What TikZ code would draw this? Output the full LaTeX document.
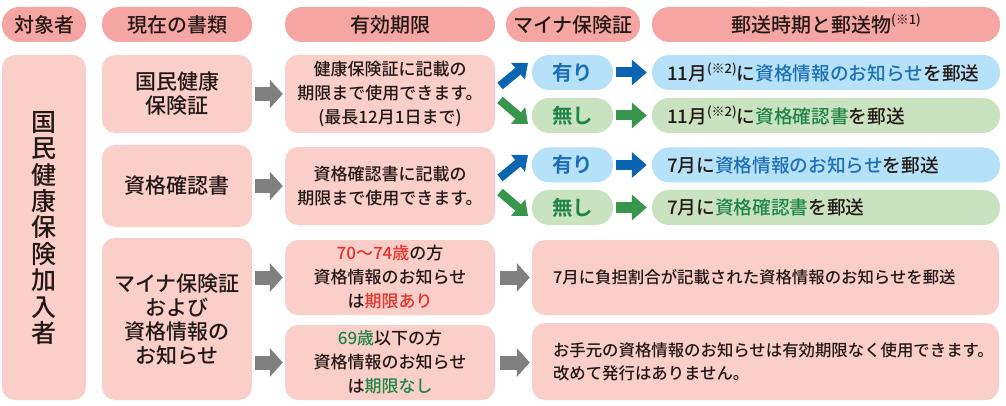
\documentclass[tikz,border=0pt]{standalone}
\usepackage{fontspec}
\setmainfont{Noto Sans CJK JP}[UprightFont=* Medium, BoldFont=* Bold]
\usetikzlibrary{arrows.meta}
\definecolor{hdr}{HTML}{F5A6A2}
\definecolor{pinkb}{HTML}{FBCFC9}
\definecolor{lblue}{HTML}{B6E2F9}
\definecolor{lgreen}{HTML}{C9E2BF}
\definecolor{ablue}{HTML}{0B64AF}
\definecolor{agreen}{HTML}{37964B}
\definecolor{tblue}{HTML}{1E6EB5}
\definecolor{tgreen}{HTML}{1F8447}
\definecolor{tred}{HTML}{E8312B}
\definecolor{ink}{HTML}{231815}
\definecolor{agray}{HTML}{808080}
\newcommand{\fsz}[2]{\fontsize{#1}{#2}\selectfont}
\newcommand{\supnote}[1]{\raisebox{0.40em}{\fsz{13}{13}#1}}
\begin{document}
\begin{tikzpicture}[x=1pt,y=-1pt]
\tikzset{
  every node/.style={text=ink, inner sep=0pt},
  hdrbox/.style={fill=hdr, rounded corners=17pt, minimum height=35pt, font=\fsz{20}{22}},
  pbox/.style={fill=pinkb, rounded corners=13pt, align=center},
  docbox/.style={pbox, minimum width=150pt, font=\fsz{21}{24}},
  valbox/.style={pbox, minimum width=210pt, font=\fsz{17}{24}},
  yesbox/.style={fill=lblue, rounded corners=17pt, minimum width=81pt, minimum height=35pt, font=\bfseries\fsz{20.5}{22}, text=tblue},
  nobox/.style={fill=lgreen, rounded corners=17pt, minimum width=81pt, minimum height=35pt, font=\bfseries\fsz{20.5}{22}, text=tgreen},
  bmail/.style={fill=lblue, rounded corners=17pt, minimum width=348pt, minimum height=35pt},
  gmail/.style={fill=lgreen, rounded corners=17pt, minimum width=348pt, minimum height=35pt},
  mailtext/.style={anchor=west, font=\fsz{18.7}{22}, align=left},
  grayarr/.style={draw=agray, line width=14pt, -{Triangle[length=13pt,width=28pt]}},
  bluearr/.style={draw=ablue, line width=10pt, -{Triangle[length=15pt,width=25pt]}},
  greenarr/.style={draw=agreen, line width=10pt, -{Triangle[length=15pt,width=25pt]}},
  bluediag/.style={draw=ablue, line width=8.5pt, -{Triangle[length=13pt,width=21pt]}},
  greendiag/.style={draw=agreen, line width=8.5pt, -{Triangle[length=13pt,width=21pt]}}
}
\useasboundingbox (0,0) rectangle (1006,406);

% headers
\node[hdrbox, minimum width=84pt] (h1) at (44,24.5) {対象者};
\node[hdrbox, minimum width=150pt] (h2) at (177,24.5) {現在の書類};
\node[hdrbox, minimum width=210pt] (h3) at (390,24.5) {有効期限};
\node[hdrbox, minimum width=134pt] (h4) at (573,24.5) {マイナ保険証};
\node[hdrbox, minimum width=348pt] (h5) at (826,24.5) {郵送時期と郵送物\supnote{(※1)}};

% target
\node[pbox, minimum width=84pt, minimum height=345pt] (tg) at (44,227.5) {};
\node[font=\fsz{25}{26.4}, align=center] (tgt) at (44,228) {国\\民\\健\\康\\保\\険\\加\\入\\者};

% current documents
\node[docbox, minimum height=78pt] (c1) at (177,94) {国民健康\\保険証};
\node[docbox, minimum height=82pt] (c2) at (177,186) {資格確認書};
\node[docbox, minimum height=162pt] (c3) at (177,319) {マイナ保険証\\および\\資格情報の\\お知らせ};

% validity
\node[valbox, minimum height=78pt] (v1) at (390,94) {健康保険証に記載の\\期限まで使用できます。\\(最長12月1日まで)};
\node[valbox, minimum height=78pt] (v2) at (390,186) {資格確認書に記載の\\期限まで使用できます。};
\node[valbox, minimum height=75pt] (v3) at (390,277.5) {{\color{tred}70～74歳}の方\\資格情報のお知らせ\\は{\color{tred}期限あり}};
\node[valbox, minimum height=75pt] (v4) at (390,362.5) {{\color{tgreen}69歳}以下の方\\資格情報のお知らせ\\は{\color{tgreen}期限なし}};

% my number card
\node[yesbox] (m1) at (572.5,72.5) {有り};
\node[nobox] (m2) at (572.5,115.5) {無し};
\node[yesbox] (m3) at (572.5,165) {有り};
\node[nobox] (m4) at (572.5,207.5) {無し};

% mail
\node[bmail] (r1) at (826,72.5) {};
\node[gmail] (r2) at (826,115.5) {};
\node[bmail] (r3) at (826,165) {};
\node[gmail] (r4) at (826,207.5) {};
\node[mailtext] (r1t) at ([xshift=15pt]r1.west) {11月\supnote{(※2)}に{\color{tblue}資格情報のお知らせ}を郵送};
\node[mailtext] (r2t) at ([xshift=15pt]r2.west) {11月\supnote{(※2)}に{\color{tgreen}資格確認書}を郵送};
\node[mailtext] (r3t) at ([xshift=15pt]r3.west) {7月に{\color{tblue}資格情報のお知らせ}を郵送};
\node[mailtext] (r4t) at ([xshift=15pt]r4.west) {7月に{\color{tgreen}資格確認書}を郵送};

\node[pbox, minimum width=467pt, minimum height=75pt] (r5) at (765.5,277.5) {};
\node[pbox, minimum width=467pt, minimum height=77pt] (r6) at (765.5,361.5) {};
\node[mailtext, font=\fsz{16.4}{23}] (r5t) at ([xshift=21pt]r5.west) {7月に負担割合が記載された資格情報のお知らせを郵送};
\node[mailtext, font=\fsz{16.4}{23}] (r6t) at ([xshift=21pt]r6.west) {お手元の資格情報のお知らせは有効期限なく使用できます。\\改めて発行はありません。};

% gray arrows
\draw[grayarr, shorten <=3pt, shorten >=2pt] (c1.east) -- (v1.west);
\draw[grayarr, shorten <=3pt, shorten >=2pt] (c2.east) -- (v2.west);
\draw[grayarr, shorten <=3pt, shorten >=2pt] (c3.east |- v3.west) -- (v3.west);
\draw[grayarr, shorten <=3pt, shorten >=2pt] (c3.east |- v4.west) -- (v4.west);
\draw[grayarr, shorten <=5pt, shorten >=2pt] (v3.east) -- (r5.west);
\draw[grayarr, shorten <=5pt, shorten >=2pt] (v4.east) -- (v4.east -| r6.west);

% diagonal arrows
\coordinate (d1a) at (500,86);
\coordinate (d1b) at (528,63);
\coordinate (d2a) at (500,100);
\coordinate (d2b) at (528,124);
\coordinate (d3a) at (500,178);
\coordinate (d3b) at (528,155);
\coordinate (d4a) at (500,192);
\coordinate (d4b) at (528,216);
\draw[bluediag] (d1a) -- (d1b);
\draw[greendiag] (d2a) -- (d2b);
\draw[bluediag] (d3a) -- (d3b);
\draw[greendiag] (d4a) -- (d4b);

% horizontal colored arrows
\draw[bluearr, shorten <=3pt, shorten >=5pt] (m1.east) -- (r1.west);
\draw[greenarr, shorten <=3pt, shorten >=5pt] (m2.east) -- (r2.west);
\draw[bluearr, shorten <=3pt, shorten >=5pt] (m3.east) -- (r3.west);
\draw[greenarr, shorten <=3pt, shorten >=5pt] (m4.east) -- (r4.west);
\end{tikzpicture}
\end{document}
